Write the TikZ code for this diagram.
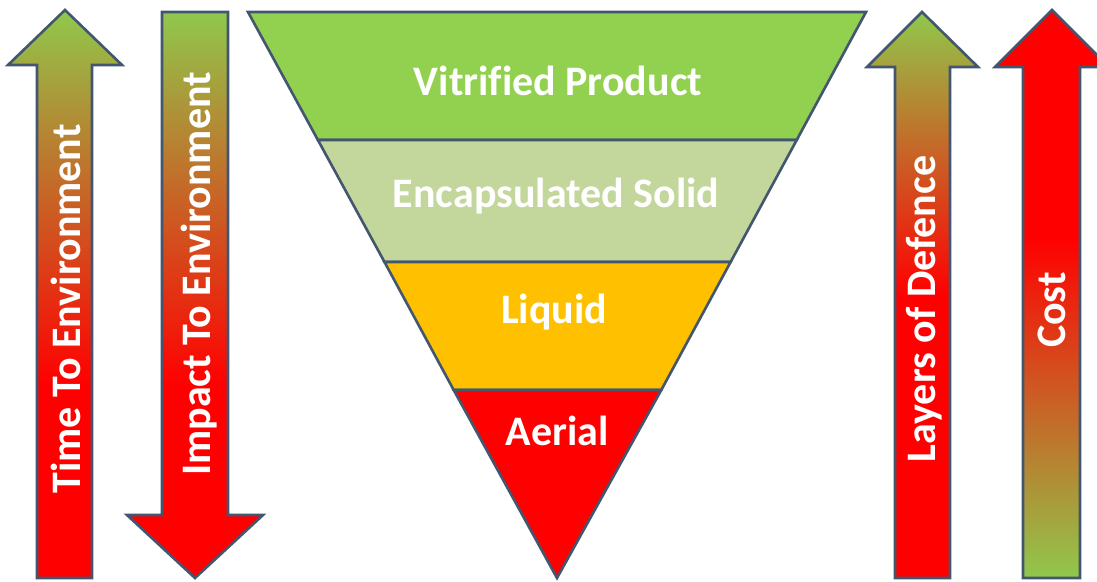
\documentclass[tikz,border=0pt]{standalone}
\usepackage{fontspec}
\setmainfont[Ligatures=CommonOff]{Carlito}
\definecolor{edgecol}{HTML}{42566F}
\definecolor{lgreen}{HTML}{92D050}
\definecolor{pgreen}{HTML}{C3D69B}
\definecolor{lorange}{HTML}{FFC000}
\definecolor{lred}{HTML}{FF0000}
\definecolor{agreen}{HTML}{90C84C}
\pgfdeclareverticalshading{timeshade}{100bp}{color(0bp)=(lred); color(42bp)=(lred); color(75bp)=(agreen); color(100bp)=(agreen)}
\pgfdeclareverticalshading{layershade}{100bp}{color(0bp)=(lred); color(50bp)=(lred); color(75bp)=(agreen); color(100bp)=(agreen)}
\pgfdeclareverticalshading{costshade}{100bp}{color(0bp)=(agreen); color(25bp)=(agreen); color(55bp)=(lred); color(100bp)=(lred)}
\tikzset{
  outl/.style={draw=edgecol, line width=2.6pt, line join=miter},
  htxt/.style={text=white, font=\bfseries\fontsize{42}{42}\selectfont, inner sep=0pt, anchor=base},
  vtxt/.style={htxt, rotate=90},
}
\begin{document}
\begin{tikzpicture}[x=1pt,y=-1pt]
\clip (0,0) rectangle (1097,581);
\fill[white] (0,0) rectangle (1097,581);
% Time To Environment arrow (up)
\shadedraw[outl, shading=timeshade] (65,10) -- (122,65) -- (92,65) -- (92,578) -- (37,578) -- (37,65) -- (8,65) -- cycle;
% Impact To Environment arrow (down)
\shadedraw[outl, shading=timeshade] (162,12) -- (228,12) -- (228,515) -- (263,515) -- (195,578) -- (127,515) -- (162,515) -- cycle;
% Funnel layers
\filldraw[outl, fill=lgreen] (248,12) -- (866,12) -- (796.7,140) -- (317.9,140) -- cycle;
\filldraw[outl, fill=pgreen] (317.9,140) -- (796.7,140) -- (730.6,262) -- (384.5,262) -- cycle;
\filldraw[outl, fill=lorange] (384.5,262) -- (730.6,262) -- (661.3,390) -- (453.7,390) -- cycle;
\filldraw[outl, fill=lred] (453.7,390) -- (661.3,390) -- (557,578) -- cycle;
% Layers of Defence arrow (up)
\shadedraw[outl, shading=layershade] (922,12) -- (978,67) -- (950,67) -- (950,578) -- (895,578) -- (895,67) -- (867,67) -- cycle;
% Cost arrow (up)
\shadedraw[outl, shading=costshade] (1052,10) -- (1109,67) -- (1080,67) -- (1080,578) -- (1023,578) -- (1023,67) -- (995,67) -- cycle;
% Texts
\node[htxt] (vit) at (558,95) {Vitrified Product};
\node[htxt] (enc) at (556,207) {Encapsulated Solid};
\node[htxt] (liq) at (554,323) {Liquid};
\node[htxt] (aer) at (557,445) {Aerial};
\node[vtxt] (tte) at (80,309) {Time To Environment};
\node[vtxt] (ite) at (210,274) {Impact To Environment};
\node[vtxt] (lod) at (935,309) {Layers of Defence};
\node[vtxt] (cost) at (1065,310) {Cost};
\end{tikzpicture}
\end{document}
